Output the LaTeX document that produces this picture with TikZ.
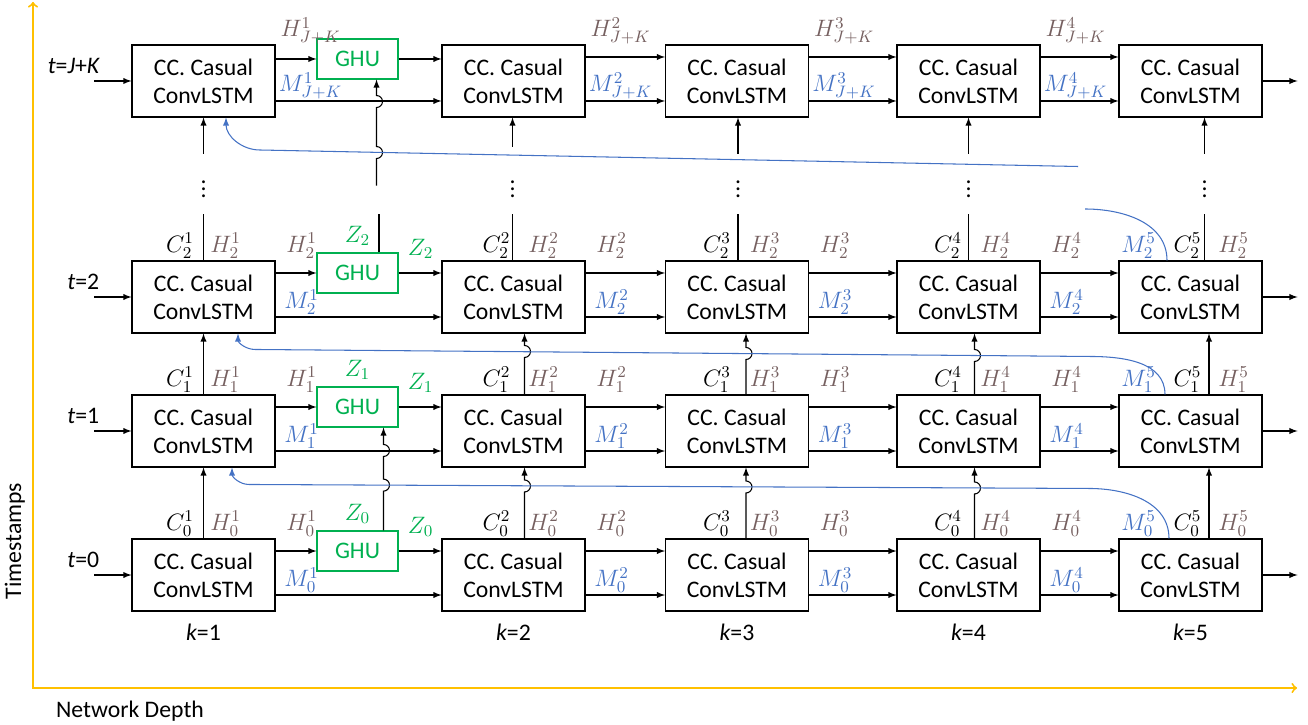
\documentclass[tikz,border=0pt]{standalone}
\usepackage{fix-cm}
\usepackage{fontspec}
\setmainfont{Carlito}
\usepackage{tikz}
\usetikzlibrary{arrows, positioning}
\definecolor{hbrown}{RGB}{118,96,96}
\definecolor{mblue}{RGB}{68,114,196}
\definecolor{zgreen}{RGB}{0,176,80}
\definecolor{axisyellow}{RGB}{255,192,0}

\begin{document}
\begin{tikzpicture}[
    every node/.style={font=\fontsize{13.5}{16}\selectfont},
    cell/.style={rectangle, draw, line width=0.6pt, minimum width=2.86cm, minimum height=1.44cm, align=center, inner sep=0pt},
    ghu/.style={rectangle, draw=zgreen, text=zgreen, line width=0.6pt, minimum width=1.62cm, minimum height=0.8cm, inner sep=0pt},
    lab/.style={inner sep=0.5pt},
    link/.style={line width=0.6pt},
    flow/.style={link, -latex},
    mwire/.style={draw=mblue, line width=0.6pt},
    mline/.style={mwire, -latex},
    axisline/.style={draw=axisyellow, line width=1.1pt}
]
\useasboundingbox (0,0) rectangle (26.16,-14.5);

\foreach \k/\x in {1/4.07, 2/10.27, 3/14.74, 4/19.37, 5/23.81} {
    \foreach \row/\y in {0/-11.50, 1/-8.62, 2/-5.94, 3/-1.62} {
        \node[cell] (cell-\k-\row) at (\x, \y) {CC. Casual\\ConvLSTM};
    }
}
\foreach \row/\y in {0/-11.02, 1/-8.14, 2/-5.46, 3/-1.18} {
    \node[ghu] (ghu-\row) at (7.15, \y) {GHU};
}

% arrows along each row
\foreach \row in {0,1,2,3} {
    \coordinate (in-\row) at ([xshift=-0.74cm]cell-1-\row.west);
    \coordinate (out-\row) at ([xshift=0.7cm]cell-5-\row.east);
    \draw[flow] (in-\row) -- (cell-1-\row.west);
    \draw[flow] (cell-5-\row.east) -- (out-\row);
    \draw[flow] (cell-1-\row.east |- ghu-\row) -- (ghu-\row.west);
    \draw[flow] (ghu-\row.east) -- (cell-2-\row.west |- ghu-\row);
    \foreach \k/\nxt in {2/3, 3/4, 4/5} {
        \draw[flow] ([yshift=0.48cm]cell-\k-\row.east) -- ([yshift=0.48cm]cell-\nxt-\row.west);
    }
    \foreach \k/\nxt in {1/2, 2/3, 3/4, 4/5} {
        \draw[flow] ([yshift=-0.4cm]cell-\k-\row.east) -- ([yshift=-0.4cm]cell-\nxt-\row.west);
    }
}

\node[lab, anchor=east] (tlab-0) at ([shift={(-0.62,0.3)}]cell-1-0.west) {{\itshape t}=0};
\node[lab, anchor=east] (tlab-1) at ([shift={(-0.62,0.3)}]cell-1-1.west) {{\itshape t}=1};
\node[lab, anchor=east] (tlab-2) at ([shift={(-0.62,0.3)}]cell-1-2.west) {{\itshape t}=2};
\node[lab, anchor=east] (tlab-3) at ([shift={(-0.62,0.3)}]cell-1-3.west) {{\itshape t}={\itshape J}+{\itshape K}};

% vertical links between rows
\foreach \row/\nxt in {0/1, 1/2} {
    \draw[flow] (cell-1-\row.north) -- (cell-1-\nxt.south);
    \draw[flow] ([xshift=0.37cm]cell-5-\row.north) -- ([xshift=0.37cm]cell-5-\nxt.south);
}
\foreach \k/\dx/\ya/\yb in {2/0.22/0.93/0.74, 3/0.18/0.91/0.70, 4/0.12/0.89/0.66} {
    \draw[flow] ([xshift=\dx cm]cell-\k-0.north) -- ++(0,\ya) arc[start angle=-90, end angle=90, radius=0.12] -- ([xshift=\dx cm]cell-\k-1.south);
    \draw[flow] ([xshift=\dx cm]cell-\k-1.north) -- ++(0,\yb) arc[start angle=-90, end angle=90, radius=0.12] -- ([xshift=\dx cm]cell-\k-2.south);
}
\foreach \k/\dx/\ys in {1/0/-0.72, 2/-0.02/-0.58, 3/0.02/-0.72, 4/0/-0.72, 5/0.28/-0.72} {
    \coordinate (up-\k) at ([xshift=\dx cm, yshift=0.92cm]cell-\k-2.north);
    \coordinate (low-\k) at ([xshift=\dx cm, yshift=\ys cm]cell-\k-3.south);
    \draw[link] ([xshift=\dx cm]cell-\k-2.north) -- (up-\k);
    \draw[flow] (low-\k) -- ([xshift=\dx cm]cell-\k-3.south);
    \node[lab] (dots-\k) at ([xshift=\dx cm, yshift=-1.32cm]cell-\k-3.south) {$\vdots$};
}

% GHU links
\coordinate (gin-3) at ([xshift=0.38cm, yshift=-2.12cm]ghu-3.south);
\draw[flow] (gin-3) -- ++(0,0.54) arc[start angle=-90, end angle=90, radius=0.12] -- ++(0,0.78) arc[start angle=-90, end angle=90, radius=0.12] -- ([xshift=0.38cm]ghu-3.south);
\coordinate (gout-2) at ([xshift=0.43cm, yshift=0.76cm]ghu-2.north);
\draw[link] ([xshift=0.43cm]ghu-2.north) -- (gout-2);
\draw[flow] ([xshift=0.52cm]ghu-0.north) -- ++(0,0.787) arc[start angle=-90, end angle=90, radius=0.12] -- ++(0,0.453) arc[start angle=-90, end angle=90, radius=0.12] -- ([xshift=0.52cm]ghu-1.south);

% memory M fed back to the first layer
\draw[mline] ([xshift=-0.43cm]cell-5-0.north) to[out=90, in=0] ++(-1.6,1.0) -- ++(-16.8,0.08) to[out=180, in=-90] ([xshift=0.57cm]cell-1-1.south);
\draw[mline] ([xshift=-0.51cm]cell-5-1.north) to[out=90, in=0] ++(-1.5,0.76) -- ++(-16.7,0.14) to[out=180, in=-90] ([xshift=0.69cm]cell-1-2.south);
\coordinate (mfree-2) at (21.70,-4.18);
\draw[mwire] ([xshift=-0.47cm]cell-5-2.north) to[out=90, in=0] (mfree-2);
\coordinate (mfree-3) at (21.56,-3.33);
\draw[mline] (mfree-3) -- ++(-16.36,0.33) to[out=180, in=-90] ([xshift=0.45cm]cell-1-3.south);

% labels
\foreach \row in {0,1,2} {
    \foreach \k/\co/\ho in {1/-0.47/0.44, 2/-0.34/0.6, 3/-0.4/0.56, 4/-0.41/0.54, 5/-0.06/0.86} {
        \node[lab] (clab-\k-\row) at ([shift={(\co,0.3)}]cell-\k-\row.north) {$C^{\k}_{\row}$};
        \node[lab, text=hbrown] (hlab-\k-\row) at ([shift={(\ho,0.3)}]cell-\k-\row.north) {$H^{\k}_{\row}$};
    }
    \node[lab, text=mblue] (mlab-5-\row) at ([shift={(-1.04,0.3)}]cell-5-\row.north) {$M^{5}_{\row}$};
    \foreach \k in {1,...,4} {
        \node[lab, text=hbrown] (hx-\k-\row) at ([shift={(0.52,0.3)}]cell-\k-\row.north east) {$H^{\k}_{\row}$};
        \node[lab, text=mblue] (mx-\k-\row) at ([shift={(0.52,-0.1)}]cell-\k-\row.east) {$M^{\k}_{\row}$};
    }
    \node[lab, text=zgreen] (zin-\row) at ([yshift=0.74cm]ghu-\row) {$Z_{\row}$};
    \node[lab, text=zgreen] (zout-\row) at ([shift={(0.44,0.48)}]ghu-\row.east) {$Z_{\row}$};
}
\foreach \k in {1,...,4} {
    \node[lab, text=hbrown] (hx-\k-3) at ([shift={(0.7,0.27)}]cell-\k-3.north east) {$H^{\k}_{J+K}$};
    \node[lab, text=mblue] (mx-\k-3) at ([shift={(0.7,-0.1)}]cell-\k-3.east) {$M^{\k}_{J+K}$};
}
\foreach \k in {1,...,5} {
    \node[lab] (klab-\k) at ([yshift=-0.42cm]cell-\k-0.south) {{\itshape k}=\k};
}

% axes
\coordinate (orig) at (0.66,-13.76);
\coordinate (tmax) at (0.66,-0.04);
\coordinate (kmax) at (25.94,-13.76);
\draw[axisline, <->] (tmax) -- (orig) -- (kmax);
\node[lab, rotate=90] (tstamp) at (0.3,-10.82) {Timestamps};
\node[lab] (ndepth) at (2.6,-14.22) {Network Depth};

\end{tikzpicture}
\end{document}
